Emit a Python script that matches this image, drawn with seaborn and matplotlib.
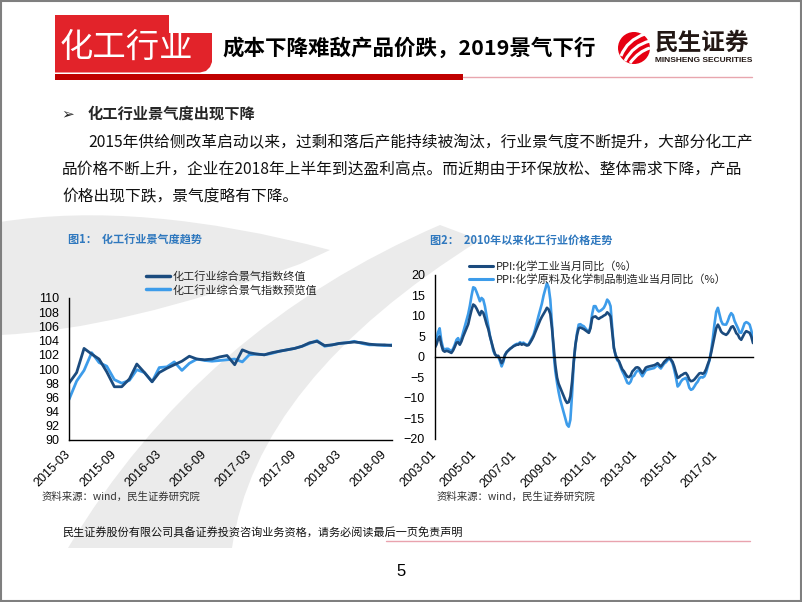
import numpy as np
import pandas as pd
import matplotlib
matplotlib.use("Agg")
import matplotlib.pyplot as plt
import seaborn as sns
from matplotlib.patches import Rectangle, Circle, PathPatch, Polygon
from matplotlib.path import Path
from matplotlib.lines import Line2D

# ---------------- data ----------------
c1_start = "2015-03-01"
c1_final = [98.0, 99.5, 102.9, 102.1, 101.4, 99.6, 97.5, 97.5, 98.6, 100.7, 99.5, 98.2,
            99.5, 100.1, 100.6, 101.1, 101.8, 101.4, 101.3, 101.4, 101.7, 101.9, 100.6, 102.7,
            102.3, 102.1, 102.0, 102.3, 102.5, 102.7, 102.9, 103.2, 103.7, 103.9, 103.3, 103.4,
            103.6, 103.7, 103.8, 103.7, 103.5, 103.4, 103.4, 103.3]
c1_prelim = [95.7, 98.3, 99.8, 102.3, 100.9, 100.4, 98.5, 98.0, 98.4, 99.9, 99.5, 98.2,
             100.2, 100.3, 101.0, 99.8, 100.8, 101.4, 101.2, 101.1, 101.2, 101.3, 101.4, 101.0,
             102.0, 102.1, 102.0, 102.2, 102.5, 102.7, 102.9, 103.2, 103.6, 104.0, 103.2, 103.4,
             103.6, 103.7, 103.9, 103.6, 103.4, 103.4, 103.3, 103.4]
c1_names = ["化工行业综合景气指数终值", "化工行业综合景气指数预览值"]
c1_ticks = ["2015-03", "2015-09", "2016-03", "2016-09", "2017-03", "2017-09", "2018-03", "2018-09"]

c2_start = "2003-01-01"
c2_chem = [2.2, 3.0, 4.2, 5.0, 3.0, 1.6, 1.3, 1.5, 1.4, 1.2, 1.0, 1.6,
           2.5, 3.5, 3.6, 3.0, 3.8, 5.0, 6.0, 7.0, 8.0, 9.8, 11.5, 12.8,
           12.5, 11.8, 11.0, 10.2, 11.2, 10.8, 9.5, 8.0, 6.8, 5.0, 3.5, 2.0,
           0.7, 0.2, 0.3, -0.5, -1.5, -0.8, 0.5, 1.2, 1.6, 2.0, 2.3, 2.6,
           2.8, 3.0, 3.0, 3.3, 3.0, 3.2, 3.0, 2.8, 2.9, 3.5, 4.2, 5.0,
           6.0, 7.0, 8.0, 9.0, 9.8, 10.5, 11.2, 12.0, 11.6, 10.5, 7.0, 2.5,
           -2.0, -5.0, -6.5, -7.5, -8.5, -9.5, -10.5, -11.2, -11.0, -9.6, -6.0, -1.0,
           3.0, 5.5, 7.0, 7.2, 7.0, 6.8, 6.5, 6.2, 5.9, 7.0, 9.5, 9.8,
           9.9, 9.5, 9.3, 9.6, 9.8, 10.1, 10.3, 10.9, 10.5, 9.9, 6.0, 2.2,
           0.5, -0.5, -1.0, -2.0, -3.0, -3.5, -4.2, -4.8, -4.9, -4.5, -3.5, -3.1,
           -2.6, -2.5, -2.7, -3.3, -3.9, -3.3, -2.6, -2.4, -2.3, -2.2, -2.1, -2.0,
           -1.8, -1.5, -1.9, -2.3, -1.8, -1.2, -0.8, -0.4, -0.2, -0.6, -1.2, -2.3,
           -3.8, -5.1, -4.9, -4.5, -4.3, -4.0, -3.9, -4.5, -5.5, -5.9, -5.8, -5.5,
           -5.0, -4.5, -4.0, -3.9, -4.1, -3.8, -3.0, -1.8, -0.7, 1.0, 3.0, 5.0,
           7.0, 7.9, 7.2, 6.2, 5.8, 5.6, 5.4, 5.8, 6.5, 7.3, 7.5, 6.8,
           5.8, 5.4, 4.6, 4.2, 5.0, 5.8, 6.3, 6.1, 5.9, 5.0, 3.4]
c2_raw = [2.5, 4.0, 6.0, 7.0, 4.0, 2.2, 1.8, 2.0, 2.0, 1.7, 1.5, 2.0,
          3.0, 4.2, 4.6, 3.5, 4.5, 6.0, 7.5, 9.0, 10.5, 12.5, 15.0, 17.0,
          16.8, 15.8, 14.8, 13.6, 14.4, 14.0, 12.4, 10.0, 7.5, 5.2, 3.4, 1.5,
          0.6, 0.3, 0.0, -1.0, -2.3, -1.2, 0.5, 1.2, 1.6, 2.0, 2.3, 2.7,
          3.0, 3.2, 3.2, 3.6, 3.3, 3.5, 3.2, 3.0, 3.0, 3.8, 4.6, 5.4,
          6.8, 8.5, 10.0, 11.5, 13.0, 15.0, 16.5, 18.0, 17.0, 14.0, 8.0, 1.0,
          -3.5, -6.3, -8.5, -10.5, -12.0, -13.5, -15.0, -16.5, -17.0, -15.3, -9.0, -1.5,
          3.0, 6.0, 7.9, 8.0, 7.7, 7.5, 7.0, 6.5, 6.0, 7.5, 10.5, 12.4,
          12.4, 11.5, 11.1, 11.3, 11.6, 12.0, 12.8, 14.0, 13.5, 12.4, 7.0, 2.2,
          0.3, -0.8, -1.2, -2.5, -3.5, -4.3, -5.3, -6.3, -6.5, -6.0, -4.8, -4.6,
          -3.8, -3.3, -3.3, -4.0, -4.7, -4.0, -3.3, -3.1, -3.0, -2.9, -2.8, -2.7,
          -2.3, -1.9, -2.4, -2.8, -2.2, -1.6, -1.3, -0.8, -0.3, -0.8, -1.6, -3.1,
          -5.0, -7.2, -6.8, -6.0, -5.5, -5.3, -5.1, -6.0, -7.5, -8.0, -7.8, -7.2,
          -6.5, -6.0, -5.2, -4.9, -5.0, -4.7, -3.8, -2.3, -0.8, 1.5, 4.5, 8.0,
          11.0, 12.0, 10.5, 8.8, 8.0, 7.9, 7.9, 8.8, 10.0, 10.7, 10.2, 8.8,
          7.9, 7.0, 6.0, 5.9, 7.0, 8.2, 8.5, 8.3, 7.9, 6.5, 4.6]
c2_names = ["PPI:化学工业当月同比（%）", "PPI:化学原料及化学制品制造业当月同比（%）"]
c2_ticks = ["2003-01", "2005-01", "2007-01", "2009-01", "2011-01", "2013-01", "2015-01", "2017-01"]

title_tag = "化工行业"
title_main = "成本下降难敌产品价跌，2019景气下行"
heading = "化工行业景气度出现下降"
para = ["2015年供给侧改革启动以来，过剩和落后产能持续被淘汰，行业景气度不断提升，大部分化工产",
        "品价格不断上升，企业在2018年上半年到达盈利高点。而近期由于环保放松、整体需求下降，产品",
        "价格出现下跌，景气度略有下降。"]
fig1_title = "图1：  化工行业景气度趋势"
fig2_title = "图2：  2010年以来化工行业价格走势"
source = "资料来源：wind，民生证券研究院"
footer = "民生证券股份有限公司具备证券投资咨询业务资格，请务必阅读最后一页免责声明"

DARK = "#1B4B7E"
LIGHT = "#3D9CEA"
TBLUE = "#2F78BE"

# ---------------- setup ----------------
sns.set_theme(style="white")
plt.rcParams["font.family"] = ["Liberation Sans", "Noto Sans CJK SC", "DejaVu Sans"]
CJK = ["Noto Sans CJK SC", "DejaVu Sans"]

W, H = 802, 602
fig = plt.figure(figsize=(W / 100, H / 100), dpi=100)
bg = fig.add_axes([0, 0, 1, 1], zorder=0)
bg.set_xlim(0, W)
bg.set_ylim(H, 0)
bg.axis("off")

# watermark swooshes
GRAY = "#EBEBEB"
p = Path([(68, 548), (200, 328), (440, 225), (480, 240), (256, 380), (232, 548), (68, 548)],
         [Path.MOVETO, Path.CURVE3, Path.CURVE3, Path.LINETO, Path.CURVE3, Path.CURVE3, Path.CLOSEPOLY])
bg.add_patch(PathPatch(p, facecolor=GRAY, edgecolor="none", zorder=0))
p = Path([(0, 222), (140, 200), (330, 250), (300, 264), (120, 330), (0, 335), (0, 222)],
         [Path.MOVETO, Path.CURVE3, Path.CURVE3, Path.LINETO, Path.CURVE3, Path.CURVE3, Path.CLOSEPOLY])
bg.add_patch(PathPatch(p, facecolor=GRAY, edgecolor="none", zorder=0))

# header
bg.add_patch(Polygon([(55, 15), (169, 15), (169, 33), (212, 33), (212, 62), (210, 67), (206, 71),
                      (200, 72.5), (55, 72.5)], closed=True, facecolor="#E2232A", edgecolor="none"))
bg.add_patch(Rectangle((55, 74), 408, 6, facecolor="#C00000", edgecolor="none"))
bg.plot([463, 752], [77, 77], color="#E8A6AE", lw=1)
bg.text(60, 47, title_tag, color="white", fontsize=24, family=CJK, va="center", ha="left")
bg.text(222, 48, title_main, color="black", fontsize=15.5, family=CJK, fontweight="bold",
        va="center", ha="left")
# logo
bg.add_patch(Circle((634, 48), 16, facecolor="#E60012", edgecolor="none"))
for (a, b, c) in [((621, 56), (627, 40), (645, 34)), ((625, 61), (633, 45), (650, 41)),
                  ((630, 63), (639, 51), (650, 48))]:
    bg.add_patch(PathPatch(Path([a, b, c], [Path.MOVETO, Path.CURVE3, Path.CURVE3]),
                           facecolor="none", edgecolor="white", lw=2.2))
bg.text(655, 43, "民生证券", color="#231815", fontsize=17, family=CJK, fontweight="bold",
        va="center", ha="left")
bg.text(655, 60, "MINSHENG SECURITIES", color="#231815", fontsize=6, fontweight="bold",
        va="center", ha="left")

# body text
bg.text(61, 114, "➢", fontsize=11, family=["DejaVu Sans"], va="center", ha="left")
bg.text(88, 114, heading, fontsize=11, family=CJK, fontweight="bold", va="center", ha="left")
bg.text(88, 143, para[0], fontsize=11.3, family=CJK, va="center", ha="left", color="#111111")
bg.text(62, 170, para[1], fontsize=11.3, family=CJK, va="center", ha="left", color="#111111")
bg.text(62, 197, para[2], fontsize=11.3, family=CJK, va="center", ha="left", color="#111111")

# chart titles and sources
bg.text(68, 239, fig1_title, fontsize=8, family=CJK, fontweight="bold", color=TBLUE, va="center")
bg.text(430, 240, fig2_title, fontsize=8, family=CJK, fontweight="bold", color=TBLUE, va="center")
bg.text(42, 497, source, fontsize=7.5, family=CJK, color="#333333", va="center")
bg.text(437, 497, source, fontsize=7.5, family=CJK, color="#333333", va="center")

# footer
bg.text(62, 533, footer, fontsize=8, family=CJK, color="#111111", va="center")
bg.plot([386, 750], [541, 541], color="#E9A3AE", lw=1)
bg.text(401, 572, "5", fontsize=12, color="black", va="center", ha="center")
bg.add_patch(Rectangle((0.8, 0.8), W - 1.6, H - 1.6, facecolor="none", edgecolor="#7F7F7F", lw=1.5))

# ---------------- chart 1 ----------------
d1 = pd.date_range(c1_start, periods=len(c1_final), freq="MS")
df1 = pd.DataFrame({"date": np.concatenate([d1, d1]),
                    "value": c1_final + c1_prelim,
                    "series": [c1_names[0]] * len(d1) + [c1_names[1]] * len(d1)})
ax1 = fig.add_axes([69 / W, 1 - 440 / H, (392 - 69) / W, (440 - 298) / H], zorder=2)
ax1.patch.set_alpha(0)
sns.lineplot(data=df1, x="date", y="value", hue="series", hue_order=c1_names[::-1],
             palette={c1_names[0]: DARK, c1_names[1]: LIGHT}, lw=2.0, legend=False, ax=ax1)
ax1.set_xlim(d1[0], d1[-1])
ax1.set_ylim(90, 110)
ax1.set_yticks(np.arange(90, 111, 2))
t1 = pd.to_datetime([t + "-01" for t in c1_ticks])
ax1.set_xticks(t1)
ax1.set_xticklabels(c1_ticks, rotation=45, ha="right", va="center", rotation_mode="anchor")
ax1.set_xlabel("")
ax1.set_ylabel("")
for s in ["top", "right"]:
    ax1.spines[s].set_visible(False)
for s in ["left", "bottom"]:
    ax1.spines[s].set_color("black")
    ax1.spines[s].set_linewidth(1)
ax1.tick_params(axis="both", direction="out", length=4, width=1, color="black",
                labelsize=9, labelcolor="black", pad=3)
ax1.tick_params(axis="x", pad=5)
h1 = [Line2D([], [], color=DARK, lw=2.5), Line2D([], [], color=LIGHT, lw=2.5)]
ax1.legend(h1, c1_names, loc="upper left", bbox_to_anchor=(146 / W, 1 - 271 / H),
           bbox_transform=fig.transFigure, frameon=False, handlelength=2.2,
           handletextpad=0.2, labelspacing=0.25, borderpad=0, borderaxespad=0,
           prop={"family": CJK, "size": 8})

# ---------------- chart 2 ----------------
d2 = pd.date_range(c2_start, periods=len(c2_chem), freq="MS")
df2 = pd.DataFrame({"date": np.concatenate([d2, d2]),
                    "value": c2_chem + c2_raw,
                    "series": [c2_names[0]] * len(d2) + [c2_names[1]] * len(d2)})
ax2 = fig.add_axes([434.7 / W, 1 - 439 / H, (753 - 434.7) / W, (439 - 275) / H], zorder=2)
ax2.patch.set_alpha(0)
sns.lineplot(data=df2, x="date", y="value", hue="series", hue_order=c2_names[::-1],
             palette={c2_names[0]: DARK, c2_names[1]: LIGHT}, lw=1.9, legend=False, ax=ax2)
ax2.set_xlim(d2[0], d2[-1])
ax2.set_ylim(-20, 20)
ax2.set_yticks(np.arange(-20, 21, 5))
t2 = pd.to_datetime([t + "-01" for t in c2_ticks])
ax2.set_xticks(t2)
ax2.set_xticklabels([])
ax2.spines["bottom"].set_position(("data", 0))
ax2.set_xlabel("")
ax2.set_ylabel("")
for s in ["top", "right"]:
    ax2.spines[s].set_visible(False)
for s in ["left", "bottom"]:
    ax2.spines[s].set_color("black")
    ax2.spines[s].set_linewidth(1)
ax2.tick_params(axis="both", direction="out", length=4, width=1, color="black",
                labelsize=9, labelcolor="black", pad=3)
for d, lbl in zip(t2, c2_ticks):
    ax2.annotate(lbl, xy=(d, 0), xycoords=("data", "axes fraction"), xytext=(0, -10),
                 textcoords="offset points", rotation=45, ha="right", va="center",
                 rotation_mode="anchor", fontsize=9, color="black")
h2 = [Line2D([], [], color=DARK, lw=2.2), Line2D([], [], color=LIGHT, lw=2.2)]
ax2.legend(h2, c2_names, loc="upper left", bbox_to_anchor=(469 / W, 1 - 261 / H),
           bbox_transform=fig.transFigure, frameon=False, handlelength=2.2,
           handletextpad=0.2, labelspacing=0.2, borderpad=0, borderaxespad=0,
           prop={"family": CJK, "size": 8})

fig.savefig("out.png", dpi=100)
